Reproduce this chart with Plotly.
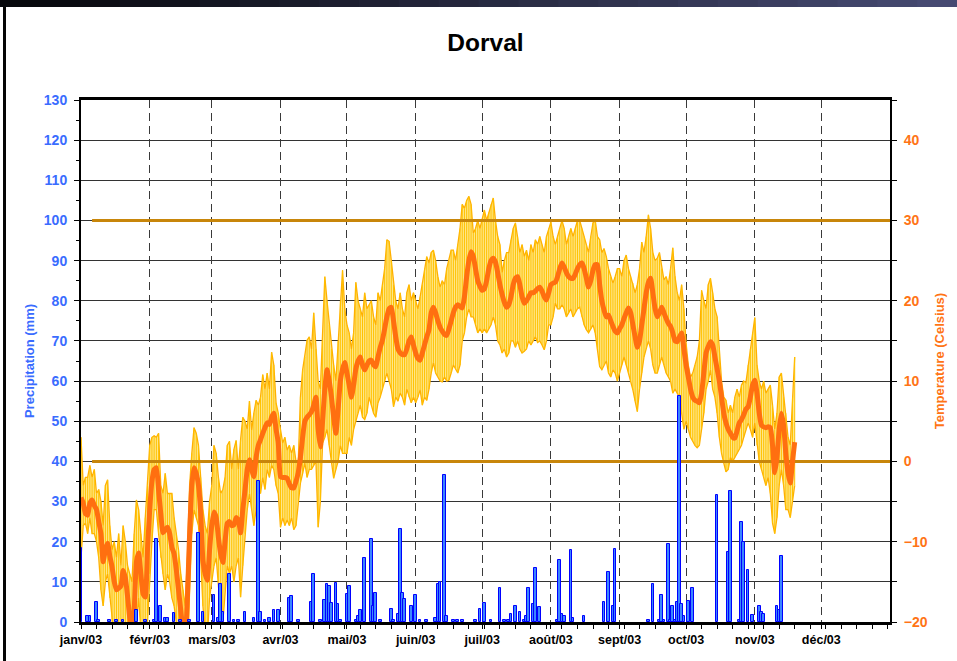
import pandas as pd
import plotly.graph_objects as go

# daily temperatures, Dorval 2003 (deg C), Jan 1 .. Nov 19
t_mean = [
    -4.5, -5.2, -6.5, -6.7, -5.2, -4.8, -5.5, -6.0, -7.5, -9.0, -12.5, -11.0, -10.2, -11.8, -13.1, -15.0,
    -16.0, -15.8, -15.5, -13.6, -14.5, -16.8, -19.5, -21.0, -18.5, -12.5, -11.4, -14.0, -16.5, -16.9, -11.0,
    -6.0, -2.5, -1.0, -0.8, -3.6, -6.5, -8.9, -8.5, -8.2, -9.0, -10.7, -11.5, -13.5, -16.0, -18.5, -21.0,
    -22.0, -17.0, -9.0, -3.0, -0.8, -1.5, -3.0, -6.4, -12.3, -14.0, -14.8, -11.0,
    -8.0, -6.3, -7.0, -9.5, -11.5, -12.6, -10.0, -7.7, -7.5, -8.0, -7.9, -7.0, -7.3, -8.9, -6.0, -3.6,
    -1.0, 0.2, -1.0, -1.9, 0.5, 2.0, 2.7, 3.5, 4.2, 4.8, 4.6, 5.5, 6.0, 4.0, 2.3,
    -1.9, -2.0, -2.0, -2.1, -2.8, -3.3, -3.3, -2.5, -1.4, 0.5, 3.0, 5.0, 5.5, 5.8, 6.2,
    7.0, 8.0, 4.0, 1.8, 5.0, 9.0, 11.4, 10.0, 8.0, 5.5, 3.5, 6.5, 10.0, 11.5, 12.3,
    11.0, 9.5, 8.0, 9.5, 11.5, 12.5, 13.0, 12.0, 11.4, 12.0, 12.5, 12.6, 12.0, 11.8, 13.0, 14.2,
    15.1, 16.5, 18.0, 19.0, 19.2, 17.5, 15.5, 14.0, 13.5, 13.3, 13.3, 14.0, 15.0, 15.5, 14.5,
    13.5, 12.8, 12.6, 13.5, 14.5, 15.5, 16.4, 18.5, 19.2, 18.5, 17.5, 16.7, 16.2, 15.8, 15.7,
    16.5, 17.5, 18.5, 19.2, 19.5, 19.3, 19.1, 20.5, 23.0, 25.0, 26.1, 25.5, 24.0, 22.5, 21.8,
    21.3, 21.5, 22.5, 24.0, 25.0, 25.3, 24.8, 23.5, 22.0, 20.8, 19.8, 19.2, 19.5, 20.5, 22.0, 22.8,
    23.0, 22.0, 20.5, 19.7, 20.0, 20.5, 21.0, 21.0, 21.2, 21.5, 21.7, 21.2, 20.5, 20.1, 21.0,
    22.0, 22.2, 22.3, 23.0, 24.0, 24.7, 24.2, 23.5, 23.0, 22.8, 22.8, 23.3, 24.0, 24.5, 24.7, 24.0,
    22.8, 21.7, 22.5, 23.8, 24.5, 24.5, 22.0, 20.0, 18.8, 18.0, 18.2, 17.5, 16.8, 16.2, 16.0,
    16.5, 17.0, 17.8, 18.5, 19.1, 18.5, 17.0, 15.5, 14.2, 15.0, 17.0, 19.0, 21.0, 22.3, 22.8,
    21.0, 19.0, 18.0, 18.5, 19.2, 18.5, 17.8, 17.2, 16.8, 16.0, 15.0, 14.9, 15.5, 16.0, 14.0,
    12.0, 10.5, 9.0, 8.0, 7.6, 7.5, 7.3, 8.5, 11.0, 13.5, 14.3, 14.9, 14.5, 13.0, 11.5, 10.0,
    8.0, 6.0, 4.8, 4.0, 3.5, 3.0, 2.9, 3.8, 4.8, 5.2, 5.8, 6.5, 6.8, 8.0, 9.5,
    10.1, 8.5, 6.0, 4.5, 4.3, 4.2, 4.3, 4.2, 2.0, -1.4, 0.5, 4.0, 6.0, 4.5, 1.0, -1.5, -2.7, 0.0, 2.4,
]
t_max = [
    3, -3, -2, -2, -0.5, -2, -1, -4, -3.5, -5, -8, -3, -2.3, -8, -11, -10,
    -12, -9, -13, -8, -10, -13, -14, -15, -9, -4.8, -6, -9, -12, -7, -3,
    2, 3, 3.2, 3, 3.5, -3, -4, -1.5, -4, -4, -4, -7, -9, -11, -14, -16,
    -18, -12, -3, 1, 4.2, 3.5, 2, -2, -6, -8, -9, -5,
    -3, 2, 1, -2, -4, -3.5, -2, 2, 2.5, -1, 1.5, 2.6, -1, 2.7, 5.5, 5,
    4, 7.5, 3.9, 6, 7.6, 7, 8, 10.8, 9, 11, 9, 13.6, 12, 7.3, 6,
    4, 2.3, 3, 1.4, 2, 1, 2, 0, -0.2, 8, 11.4, 13, 15.1, 15.5, 14,
    18.5, 14, 10, 9, 15, 23, 20, 17, 14, 12, 10, 15, 20, 23.8, 19,
    17, 16, 14, 16, 22.3, 20, 19, 18, 21, 19, 19.5, 20, 18, 17, 21, 20,
    22, 24, 27.6, 27.4, 25, 22, 20, 19, 21, 19, 18, 21, 22, 20, 21,
    20, 19, 20.5, 22, 24, 25.5, 24.7, 26, 26.3, 25, 23, 21.7, 22.5, 22, 24,
    25, 26.3, 26.3, 25, 27, 29, 32, 31.5, 32.5, 33, 32, 28.4, 29, 30, 29,
    30, 31.3, 30, 31, 32, 32.8, 30, 28, 27, 23.5, 25, 26, 26, 27.6, 29, 29.7,
    28, 26, 27, 25.5, 26.3, 25, 27, 26, 27.6, 27, 28, 27, 26, 28, 29,
    29.8, 28, 27, 28, 29, 30, 29, 27, 28, 29, 28, 29, 30, 30, 29, 28,
    27, 26, 28, 29.7, 30, 28, 27.6, 26, 26.5, 25.5, 24, 23, 22.2, 23, 24,
    24, 23, 25, 25.7, 24, 23, 22.2, 21, 22, 24, 27.3, 26, 28, 30.7, 29,
    26, 25, 25.3, 26, 24, 22.6, 23, 22, 24, 26.6, 23, 21, 20, 22, 19,
    14.7, 12, 10.5, 11, 12, 13, 15, 21.3, 20, 19, 22, 22.8, 21, 19, 18, 14,
    10, 8, 7.6, 6, 7, 6, 8, 9, 8, 9.5, 10, 9.8, 12, 14, 16,
    17.9, 12, 10, 9, 10, 8.5, 9, 9.5, 7, 4, 6, 10.5, 11, 8, 6, 3, 2, 8, 13,
]
t_min = [
    -12, -8, -7.7, -9, -7, -9, -9, -10, -12, -16, -18, -15, -14, -17, -20, -22,
    -21, -23, -20, -22, -23, -25, -27, -27, -26, -20, -17, -21, -24, -25, -20,
    -14, -10, -6, -6, -9, -12, -14, -16, -14, -15, -17, -18, -20, -23, -26, -28,
    -29, -25, -16, -9, -6, -7, -8, -12, -18, -21, -22, -17,
    -15, -13, -12, -15, -19, -20, -16, -13, -14, -13, -15, -13, -12, -16.9, -13, -9,
    -6, -4, -6, -8, -6, -3, -4, -2, -3.5, -1, -2, -0.5, -1, -3, -4,
    -8.2, -7, -8, -7.3, -8, -7, -8.5, -8, -5, -2.7, -1.5, -0.2, -2, -1, -1,
    -0.5, 0, -8.2, -5, 2.3, 3, 4, 2, 0, -2.1, -1, 0, 2, 1, 1,
    1, 3, 2, 4, 5, 6, 7, 5.5, 5.2, 6, 8, 7, 6, 5.5, 7.3, 8,
    9, 10, 11, 10, 9, 6.8, 8, 7.5, 8.5, 8, 7, 9, 8, 7.3, 8,
    7.3, 8, 8.9, 7, 8, 7.6, 9, 11, 12.3, 11, 10.5, 10, 9.9, 10.5, 10,
    10.1, 11, 12, 11.5, 11, 12, 15, 16, 18, 19, 18, 18, 17, 16, 16.5,
    16, 16.5, 16, 16.5, 17, 18, 17, 15, 14.5, 13.5, 14, 13, 13.5, 15, 15, 14.2,
    15, 14, 13.5, 13.7, 14, 15, 14.5, 15, 15.5, 14.8, 15, 14.5, 13.9, 15, 17,
    17, 18, 19.7, 19, 19, 19.5, 19, 18, 18.5, 19, 18, 18.5, 19, 19.2, 18, 17,
    16.4, 16, 16.5, 17, 16, 14, 11.8, 11.4, 12, 12.5, 11, 10.5, 11.4, 11, 10,
    11, 12, 13, 12, 11, 10, 8.9, 7.5, 6.2, 9, 11, 13, 14, 15, 14,
    12, 11, 11, 12, 13, 12, 11, 10.5, 10, 8.5, 9, 8.5, 8, 6, 4,
    5, 4, 3, 2.5, 2, 1.7, 2, 4, 6, 9, 10, 11.4, 9, 8, 6, 3,
    1, -0.2, -1.3, -1, 0.5, 0, 0.5, 1, 1.5, 2, 3, 4, 4.8, 4, 3,
    4.8, 2, 0, -1, -2, -3, -2, -4, -7.7, -9, -7, -3, -1, -3, -6, -6, -7, -5, -3,
]

# daily precipitation (mm): day of year (0 = Jan 1) and amount
precip_day = [
    0, 3, 4, 7, 8, 13, 16, 19, 25, 29,
    33, 34, 36, 38, 39, 42, 45, 49, 53, 55,
    60, 62, 63, 64, 67, 69, 71, 74, 78, 80,
    81, 83, 85, 87, 89, 94, 95, 98, 104, 105,
    108, 110, 111, 112, 113, 115, 116, 117, 120, 121,
    124, 125, 126, 128, 131, 132, 133, 135, 140, 141,
    143, 144, 145, 146, 149, 151, 153, 156, 160, 161,
    162, 164, 165, 168, 170, 172, 178, 180, 182, 185,
    189, 191, 193, 194, 196, 198, 200, 201, 202, 204,
    205, 207, 215, 216, 217, 218, 221, 222, 227, 236,
    238, 240, 241, 256, 258, 261, 262, 263, 265, 266,
    267, 268, 269, 270, 271, 272, 274, 276, 287, 292,
    293, 297, 298, 299, 301, 303, 306, 307, 308, 314,
    315, 316,
]
precip_mm = [
    18.5, 1.5, 1.5, 5.0, 0.5, 0.5, 0.5, 0.5, 3.0, 0.5,
    0.5, 20.7, 4.0, 1.0, 1.0, 2.2, 0.5, 0.5, 22.1, 2.6,
    6.7, 1.0, 9.5, 2.6, 12.0, 0.5, 0.5, 2.6, 1.0, 35.0,
    2.5, 0.5, 1.0, 3.0, 3.0, 6.0, 6.5, 0.5, 5.0, 12.0,
    0.5, 5.5, 9.5, 9.0, 4.7, 9.8, 4.5, 0.5, 7.0, 9.0,
    0.5, 1.5, 3.0, 16.0, 20.6, 4.0, 7.2, 0.5, 3.3, 0.5,
    2.0, 23.2, 7.2, 5.7, 4.0, 6.7, 0.5, 0.5, 1.0, 9.5,
    10.0, 36.6, 1.5, 0.5, 0.5, 0.5, 0.5, 3.2, 4.7, 0.5,
    8.5, 0.5, 0.5, 2.0, 4.0, 2.5, 0.5, 1.5, 8.5, 4.5,
    13.4, 3.8, 0.5, 15.5, 2.0, 1.5, 18.0, 1.0, 1.5, 5.0,
    12.4, 4.0, 18.2, 0.5, 9.5, 0.5, 6.7, 0.5, 19.5, 0.5,
    4.0, 0.5, 5.0, 56.3, 4.5, 1.5, 5.2, 8.5, 31.6, 17.5,
    32.7, 0.5, 24.8, 20.0, 13.0, 1.7, 4.0, 2.5, 2.0, 4.0,
    3.0, 16.5,
]

month_labels = ["janv/03", "févr/03", "mars/03", "avr/03", "mai/03", "juin/03",
                "juil/03", "août/03", "sept/03", "oct/03", "nov/03", "déc/03"]
ref_levels = [0, 30]

start = pd.Timestamp("2003-01-01")
dates = pd.date_range(start, periods=len(t_mean), freq="D")
precip_dates = [start + pd.Timedelta(days=d) for d in precip_day]
month_starts = pd.date_range(start, periods=12, freq="MS")
DAY = 86400000

BLUE = "#3a6cff"
ORANGE = "#ff7415"
FONT = "Liberation Sans, Arial, sans-serif"

# vertical hatch between daily min and max
hx, hy = [], []
for d, lo, hi in zip(dates, t_min, t_max):
    hx += [d, d, None]
    hy += [lo, hi, None]

fig = go.Figure()
fig.add_trace(go.Scatter(x=dates, y=t_min, mode="lines", line=dict(color="#ffb000", width=1.3),
                         yaxis="y", showlegend=False, hoverinfo="skip"))
fig.add_trace(go.Scatter(x=dates, y=t_max, mode="lines", line=dict(color="#ffb000", width=1.3),
                         fill="tonexty", fillcolor="#ffe68a", yaxis="y", showlegend=False))
fig.add_trace(go.Scatter(x=hx, y=hy, mode="lines", line=dict(color="#ffc200", width=1),
                         yaxis="y", showlegend=False, hoverinfo="skip"))
for lv in ref_levels:
    fig.add_trace(go.Scatter(x=[pd.Timestamp("2003-01-06"), pd.Timestamp("2004-01-01")], y=[lv, lv],
                             mode="lines", line=dict(color="#c8860a", width=3),
                             yaxis="y", showlegend=False, hoverinfo="skip"))
fig.add_trace(go.Scatter(x=dates, y=t_mean, mode="lines",
                         line=dict(color="#ff6f10", width=5, shape="spline", smoothing=0.5),
                         yaxis="y", showlegend=False))
fig.add_trace(go.Bar(x=precip_dates, y=precip_mm, yaxis="y2", width=1.2 * DAY,
                     marker=dict(color="#3b86ff", line=dict(color="#0000ff", width=1)),
                     showlegend=False))

# slide decoration: dark gradient band on top, black bar on the left
shapes = []
n = 24
c0, c1 = (7, 8, 12), (70, 74, 114)
for i in range(n):
    t = i / (n - 1)
    col = "rgb(%d,%d,%d)" % tuple(int(a + (b - a) * t) for a, b in zip(c0, c1))
    shapes.append(dict(type="rect", xref="paper", yref="paper",
                       x0=(-81 + 957 * i / n) / 809, x1=(-81 + 957 * (i + 1) / n) / 809 + 0.002,
                       y0=(622 - 7) / 522, y1=622 / 522, fillcolor=col, line_width=0, layer="above"))
shapes.append(dict(type="rect", xref="paper", yref="paper", x0=(3 - 81) / 809, x1=(6 - 81) / 809,
                   y0=(622 - 661) / 522, y1=(622 - 7) / 522, fillcolor="#050505", line_width=0, layer="above"))

fig.update_layout(
    width=957, height=661,
    margin=dict(l=81, r=67, t=100, b=39),
    paper_bgcolor="white", plot_bgcolor="white",
    font=dict(family=FONT, color="black"),
    title=dict(text="<b>Dorval</b>", x=0.5, xref="paper", y=1 - 42 / 661, yref="container",
               yanchor="middle", font=dict(size=24.5, color="black", family=FONT)),
    showlegend=False,
    bargap=0,
    shapes=shapes,
    xaxis=dict(type="date", range=[start, pd.Timestamp("2004-01-01")],
               tickvals=month_starts, ticktext=month_labels,
               tickfont=dict(size=12.5, weight="bold", color="black"),
               showgrid=True, gridcolor="#3a3a3a", gridwidth=1, griddash="8px,5px",
               showline=True, linecolor="black", linewidth=3, mirror=True,
               ticks="outside", ticklen=4, tickcolor="black",
               minor=dict(tick0=start, dtick=7 * DAY, ticks="outside", ticklen=4, tickcolor="black"),
               zeroline=False, automargin=False),
    yaxis=dict(side="right", range=[-20, 45], tick0=-20, dtick=10,
               showgrid=True, gridcolor="#333333", gridwidth=1,
               minor=dict(tick0=-20, dtick=5, ticks="outside", ticklen=5, tickcolor="black",
                          showgrid=True, gridcolor="#333333", gridwidth=1),
               ticks="outside", ticklen=5, tickcolor="black", ticklabelstandoff=4,
               showline=True, linecolor="black", linewidth=2,
               tickfont=dict(size=14, weight="bold", color=ORANGE),
               title=dict(text="Temperature (Celsius)", standoff=8,
                          font=dict(size=13, weight="bold", color=ORANGE)),
               zeroline=False, automargin=False),
    yaxis2=dict(overlaying="y", side="left", range=[0, 130], dtick=10, showgrid=False,
                ticks="outside", ticklen=5, tickcolor="black", ticklabelstandoff=4,
                minor=dict(dtick=5, ticks="outside", ticklen=3, tickcolor="black"),
                showline=True, linecolor="black", linewidth=2,
                tickfont=dict(size=14, weight="bold", color=BLUE),
                title=dict(text="Precipitation (mm)", standoff=6,
                           font=dict(size=13, weight="bold", color=BLUE)),
                zeroline=False, automargin=False),
)

fig.write_html("out.html", config={"displayModeBar": False},
               post_script="document.body.style.margin='0';")
